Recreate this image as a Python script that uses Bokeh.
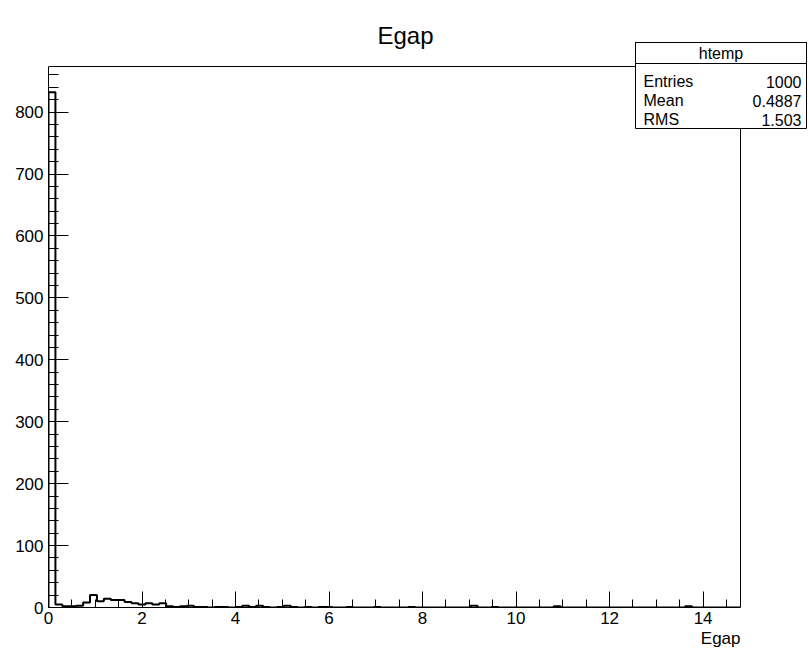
from bokeh.plotting import figure
from bokeh.models import Range1d, Label, BoxAnnotation, SingleIntervalTicker, Title
from bokeh.embed import file_html
from bokeh.resources import INLINE

# ---------------- data ----------------
x_min, x_max = 0.0, 14.8
n_bins = 100
counts = (
    [832, 5, 2, 2, 3, 8, 20, 10, 14, 12, 12, 9, 7, 5, 7, 5, 7]          # bins 0-16
    + [2, 1, 2, 3, 1, 1, 0, 1, 1, 0, 1, 3, 1, 3, 1, 0, 1, 3, 1, 0, 1, 0, 1, 1]  # 17-40
    + [0, 0, 1, 0, 0, 0, 1, 0, 0, 0, 0, 1, 0, 0, 0, 0, 0, 0, 0, 0, 3, 0, 0, 1, 0, 0, 0]  # 41-67
    + [0, 0, 0, 0, 0, 2, 0, 0, 0, 0, 0, 0, 0, 0, 0, 0, 0, 0, 0, 0, 0, 0, 0, 0, 2, 0, 0, 0, 0, 0, 0, 0]  # 68-99
)
title_text = "Egap"
x_title = "Egap"
stat_name = "htemp"
stat_labels = ["Entries", "Mean", "RMS"]
stat_values = ["1000", "0.4887", "1.503"]

FONT = "Liberation Sans, Arial, Helvetica, sans-serif"

bw = (x_max - x_min) / n_bins
edges = [x_min + i * bw for i in range(n_bins + 1)]
xs = [edges[0]]
ys = [0]
for i, c in enumerate(counts):
    xs += [edges[i], edges[i + 1]]
    ys += [c, c]
xs.append(edges[-1])
ys.append(0)

y_max = max(counts) * 1.05

# layout in pixels (ROOT pad): histogram frame from (48,66) to (740,607) on a 809x658 canvas
W, H = 809, 658
FL, FR, FT, FB = 48, 740, 66, 607
# plot frame spans to the canvas top/right so the title and stats box are inside it
px_per_x = (FR - FL) / (x_max - x_min)
px_per_y = (FB - FT) / y_max
x_end = x_max + (W - FR) / px_per_x
y_end = y_max + FT / px_per_y

p = figure(width=W, height=H,
           x_range=Range1d(x_min, x_end), y_range=Range1d(0, y_end),
           output_backend="svg", toolbar_location=None, title=None,
           min_border_left=FL, min_border_right=0,
           min_border_top=0, min_border_bottom=H - FB)
p.grid.visible = False
p.background_fill_color = "white"
p.border_fill_color = "white"
p.outline_line_color = None

# ROOT frame: top and right edges
p.line([x_min, x_max, x_max], [y_max, y_max, 0], line_color="black", line_width=1)

# histogram outline
p.line(xs, ys, line_color="black", line_width=2)

for ax in (p.xaxis[0], p.yaxis[0]):
    ax.axis_line_color = "black"
    ax.major_tick_line_color = "black"
    ax.minor_tick_line_color = "black"
    ax.major_tick_out = 0
    ax.minor_tick_out = 0
    ax.major_label_text_font = FONT
    ax.major_label_text_font_size = "17px"
    ax.major_label_text_color = "black"

p.xaxis.bounds = (x_min, x_max)
p.yaxis.bounds = (0, y_max)
p.xaxis.ticker = SingleIntervalTicker(interval=2, num_minor_ticks=4)
p.yaxis.ticker = SingleIntervalTicker(interval=100, num_minor_ticks=5)
p.xaxis.major_tick_in = 16
p.xaxis.minor_tick_in = 8
p.yaxis.major_tick_in = 20
p.yaxis.minor_tick_in = 10
p.xaxis.major_label_standoff = 4
p.yaxis.major_label_standoff = 5

# x axis title, right-aligned with the histogram frame
p.add_layout(Title(text=x_title, align="right", offset=W - FR, text_font=FONT,
                   text_font_size="17px", text_font_style="normal",
                   text_color="black", standoff=0), "below")

# title (frame-relative screen units: x from frame left, y up from frame bottom)
p.add_layout(Label(x=405 - FL, y=FB - 35, x_units="screen", y_units="screen", text=title_text,
                   text_font=FONT, text_font_size="24px", text_align="center",
                   text_baseline="middle", text_color="black"))

# stats box
bx0, bx1, by0, by1, bsep = 635, 806, 42, 128, 63
p.add_layout(BoxAnnotation(left=bx0 - FL, right=bx1 - FL, top=FB - by0, bottom=FB - by1,
                           left_units="screen", right_units="screen",
                           top_units="screen", bottom_units="screen",
                           fill_color="white", fill_alpha=1.0,
                           line_color="black", line_alpha=1.0, line_width=1, level="overlay"))
p.add_layout(BoxAnnotation(left=bx0 - FL, right=bx1 - FL, top=FB - by0, bottom=FB - bsep,
                           left_units="screen", right_units="screen",
                           top_units="screen", bottom_units="screen",
                           fill_alpha=0.0, line_color="black", line_alpha=1.0,
                           line_width=1, level="overlay"))
p.add_layout(Label(x=(bx0 + bx1) / 2 - FL, y=FB - 53, x_units="screen", y_units="screen",
                   text=stat_name, text_font=FONT, text_font_size="16px", text_align="center",
                   text_baseline="middle", text_color="black", level="overlay"))
row_y = [81, 100, 119]
for lab, val, yy in zip(stat_labels, stat_values, row_y):
    p.add_layout(Label(x=bx0 + 8 - FL, y=FB - yy, x_units="screen", y_units="screen", text=lab,
                       text_font=FONT, text_font_size="16px", text_align="left",
                       text_baseline="middle", text_color="black", level="overlay"))
    p.add_layout(Label(x=bx1 - 5 - FL, y=FB - yy, x_units="screen", y_units="screen", text=val,
                       text_font=FONT, text_font_size="16px", text_align="right",
                       text_baseline="middle", text_color="black", level="overlay"))

open("out.html", "w").write(file_html(p, INLINE))
